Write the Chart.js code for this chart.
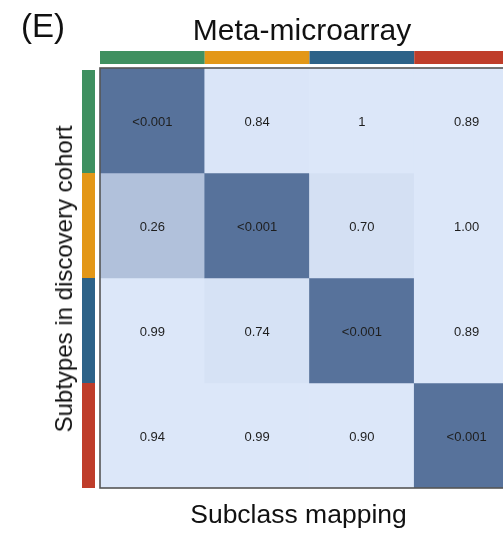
<!DOCTYPE html>
<html lang="en">
<head>
  <meta charset="UTF-8">
  <title>Subclass mapping heatmap</title>
  <script src="https://cdn.jsdelivr.net/npm/chart.js@4.4.0/dist/chart.umd.min.js"></script>
  <style>
    * { box-sizing: border-box; margin: 0; padding: 0; }
    html, body { width: 503px; height: 534px; overflow: hidden; background: #fff; font-family: 'Liberation Sans', Arial, sans-serif; color: #111; }
    .wrap { position: relative; width: 503px; height: 534px; overflow: hidden; }
    .chart-box { position: absolute; left: 0; top: 0; width: 540px; height: 534px; }
    .panel { position: absolute; left: 21px; top: 9px; font-size: 33px; line-height: 1; }
    .title { position: absolute; left: 0; width: 604px; top: 15px; text-align: center; font-size: 30px; line-height: 1; }
    .xlabel { position: absolute; left: 0; width: 597px; top: 501px; text-align: center; font-size: 26.5px; line-height: 1; }
    .ylabel { position: absolute; left: 64px; top: 279px; transform: translate(-50%, -50%) rotate(-90deg); white-space: nowrap; font-size: 24px; line-height: 1; }
  </style>
</head>
<body>
  <div class="wrap">
    <div class="chart-box"><canvas id="heat" width="540" height="534"></canvas></div>
    <div class="panel">(E)</div>
    <div class="title">Meta-microarray</div>
    <div class="xlabel">Subclass mapping</div>
    <div class="ylabel">Subtypes in discovery cohort</div>
  </div>

  <script>
    // subclass mapping p-values, rows = discovery subtypes, cols = meta-microarray subtypes
    const columns = ['S1', 'S2', 'S3', 'S4'];
    const rows = ['S1', 'S2', 'S3', 'S4'];
    const row1 = [0.001, 0.84, 1, 0.89];
    const row2 = [0.26, 0.001, 0.70, 1.00];
    const row3 = [0.99, 0.74, 0.001, 0.89];
    const row4 = [0.94, 0.99, 0.90, 0.001];
    const row1Labels = ['<0.001', '0.84', '1', '0.89'];
    const row2Labels = ['0.26', '<0.001', '0.70', '1.00'];
    const row3Labels = ['0.99', '0.74', '<0.001', '0.89'];
    const row4Labels = ['0.94', '0.99', '0.90', '<0.001'];
    const subtypeColors = ['#3f9060', '#e39717', '#2d6288', '#bf3d2a'];

    const pValues = [row1, row2, row3, row4];
    const pLabels = [row1Labels, row2Labels, row3Labels, row4Labels];

    // -log10(p) mapped from pale blue to slate blue
    function cellColor(p) {
      const light = [220, 231, 249], dark = [87, 114, 155];
      const raw = -Math.log10(p) / 3;
      const t = Math.min(1, Math.max(0, (raw - 0.018) / 0.55));
      const c = light.map((l, i) => Math.round(l + (dark[i] - l) * t));
      return `rgb(${c[0]},${c[1]},${c[2]})`;
    }

    const datasets = rows.map((r, ri) => ({
      label: r,
      data: columns.map(() => [ri, ri + 1]),
      backgroundColor: pValues[ri].map(cellColor),
      borderWidth: 0,
      categoryPercentage: 1,
      barPercentage: 1
    }));

    const cellText = {
      id: 'cellText',
      afterDatasetsDraw(chart) {
        const { ctx } = chart;
        ctx.save();
        ctx.font = '13px "Liberation Sans", Arial, sans-serif';
        ctx.fillStyle = '#1e1e1e';
        ctx.textAlign = 'center';
        ctx.textBaseline = 'middle';
        chart.data.datasets.forEach((ds, ri) => {
          chart.getDatasetMeta(ri).data.forEach((bar, ci) => {
            const cy = (bar.y + bar.base) / 2 + 2;
            ctx.fillText(pLabels[ri][ci], bar.x, cy);
          });
        });
        ctx.restore();
      }
    };

    // colour strips along the top and left plus the frame
    const strips = {
      id: 'strips',
      afterDraw(chart) {
        const { ctx, chartArea: a, scales: { x, y } } = chart;
        const half = x.width / columns.length / 2;
        ctx.save();
        subtypeColors.forEach((col, i) => {
          ctx.fillStyle = col;
          const xc = x.getPixelForValue(i);
          ctx.fillRect(xc - half, a.top - 17, half * 2, 13);
          const y0 = y.getPixelForValue(i), y1 = y.getPixelForValue(i + 1);
          ctx.fillRect(a.left - 18, y0 + (i === 0 ? 2 : 0), 13, y1 - y0);
        });
        ctx.strokeStyle = '#555';
        ctx.lineWidth = 1.6;
        ctx.strokeRect(a.left, a.top, a.right - a.left, a.bottom - a.top);
        ctx.restore();
      }
    };

    new Chart(document.getElementById('heat'), {
      type: 'bar',
      data: { labels: columns, datasets },
      plugins: [cellText, strips],
      options: {
        responsive: false,
        animation: false,
        layout: { padding: { left: 100, top: 68, right: 21, bottom: 46 } },
        plugins: { legend: { display: false }, tooltip: { enabled: false } },
        scales: {
          x: { display: false, stacked: true },
          y: { display: false, min: 0, max: 4, reverse: true }
        }
      }
    });
  </script>
</body>
</html>
